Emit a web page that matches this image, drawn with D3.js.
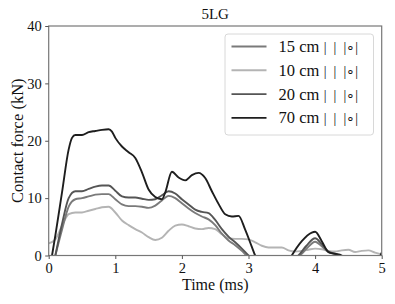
<!DOCTYPE html>
<html>
<head>
<meta charset="utf-8">
<script src="https://cdn.jsdelivr.net/npm/d3@7"></script>
<style>
  body { margin: 0; background: #fff; }
  text { font-family: "Liberation Serif", "Times New Roman", serif; fill: #111; }
</style>
</head>
<body>
<svg width="395" height="304"></svg>
<script>
var times15 = [0.1, 0.2, 0.3, 0.4, 0.5, 0.6, 0.7, 0.8, 0.9, 1.0, 1.1, 1.2, 1.3, 1.4, 1.5, 1.6, 1.7, 1.8, 1.9, 2.0, 2.1, 2.2, 2.3, 2.4, 2.5, 2.6, 2.7, 2.8, 2.9, 2.97, 3.1, 3.4, 3.7, 3.77, 3.88, 4.0, 4.1, 4.2, 4.3, 4.37, 4.5, 5.0];
var force15 = [0, 4.5, 8.5, 9.8, 10, 10.3, 10.6, 10.7, 10.7, 9.8, 8.9, 8.6, 8.6, 8.5, 8.3, 8.7, 9.6, 10.4, 10.0, 9.1, 8.2, 7.4, 6.8, 6.3, 5.3, 3.8, 2.6, 1.8, 0.8, 0, -1, -1.2, -0.4, 0, 1.3, 2.4, 1.6, 0.6, 0.2, 0, -0.8, -1];

var times10 = [0, 0.1, 0.2, 0.3, 0.4, 0.5, 0.6, 0.7, 0.8, 0.9, 1.0, 1.1, 1.2, 1.3, 1.4, 1.5, 1.6, 1.7, 1.8, 1.9, 2.0, 2.1, 2.2, 2.3, 2.4, 2.5, 2.6, 2.7, 2.8, 2.9, 3.0, 3.1, 3.2, 3.3, 3.4, 3.5, 3.6, 3.7, 3.8, 3.9, 4.0, 4.1, 4.2, 4.3, 4.4, 4.5, 4.6, 4.7, 4.8, 4.9, 5.0];
var force10 = [2.1, 2.8, 5.2, 7.2, 7.5, 7.5, 7.8, 8.1, 8.4, 8.5, 7.5, 6.1, 5.3, 4.6, 4.0, 3.2, 2.7, 3.1, 4.3, 5.2, 5.4, 5.1, 4.7, 4.6, 4.8, 4.6, 3.7, 3.0, 2.9, 2.9, 2.8, 2.3, 1.7, 1.4, 1.4, 1.4, 0.9, 0.7, 0.8, 1.0, 1.2, 1.1, 0.8, 0.7, 0.9, 1.0, 0.6, 0.8, 0.9, 0.5, 0.2];

var times20 = [0.1, 0.2, 0.3, 0.4, 0.5, 0.6, 0.7, 0.8, 0.9, 1.0, 1.1, 1.2, 1.3, 1.4, 1.5, 1.6, 1.7, 1.8, 1.9, 2.0, 2.1, 2.2, 2.3, 2.4, 2.5, 2.6, 2.7, 2.8, 2.9, 3.0, 3.1, 3.4, 3.7, 3.75, 3.87, 4.0, 4.1, 4.2, 4.3, 4.37, 4.5, 5.0];
var force20 = [0, 5.5, 10, 11.2, 11.2, 11.6, 12, 12.2, 12.2, 11.3, 10.3, 10.1, 10.1, 9.9, 9.7, 9.8, 10.5, 11.2, 10.8, 9.8, 8.9, 8.0, 7.6, 7.4, 6.2, 4.6, 3.3, 2.3, 1.2, 0, -1, -1.2, -0.5, 0, 1.7, 3.0, 2.0, 0.7, 0.3, 0, -0.8, -1];

var times70 = [0.05, 0.1, 0.2, 0.3, 0.35, 0.4, 0.5, 0.6, 0.7, 0.8, 0.9, 0.95, 1.0, 1.1, 1.2, 1.3, 1.4, 1.5, 1.6, 1.7, 1.75, 1.85, 1.95, 2.05, 2.15, 2.25, 2.35, 2.45, 2.55, 2.65, 2.75, 2.85, 2.95, 3.05, 3.1, 3.2, 3.6, 3.65, 3.8, 3.95, 4.0, 4.1, 4.2, 4.3, 4.4, 4.5, 4.95, 5.0];
var force70 = [0, 3.5, 11, 18.5, 20.5, 21, 21, 21.5, 21.7, 21.9, 22, 21.6, 20.5, 19, 18, 17, 14.5, 11.5, 10.2, 9.8, 11, 14.6, 13.6, 13.1, 14, 14.4, 13.5, 11.2, 9, 7.2, 6.8, 6.9, 4.5, 1.5, 0, -1.5, -1, 0, 2.5, 4.0, 4.15, 2.5, 0.6, 0.3, 0, -1, -0.5, 0.5];

var labels = ['15 cm', '10 cm', '20 cm', '70 cm'];
var labelTail = '|\u2002|\u2002|\u2218|';
var colors = ['#7a7a7a', '#b4b4b4', '#555555', '#1e1e1e'];
var xTicks = [0, 1, 2, 3, 4, 5];
var yTicks = [0, 10, 20, 30, 40];

var svg = d3.select('svg');
var width = +svg.attr('width');
var height = +svg.attr('height');
var margin = { left: 48.7, right: 13.3, top: 26, bottom: 48.5 };

var x = d3.scaleLinear().domain([0, 5]).range([margin.left, width - margin.right]);
var y = d3.scaleLinear().domain([0, 40]).range([height - margin.bottom, margin.top]);

svg.append('clipPath').attr('id', 'plotclip')
  .append('rect')
  .attr('x', x(0)).attr('y', y(40))
  .attr('width', x(5) - x(0)).attr('height', y(0) - y(40));

var series = [
  { t: times15, v: force15 },
  { t: times10, v: force10 },
  { t: times20, v: force20 },
  { t: times70, v: force70 }
];

var line = d3.line()
  .x(function(d) { return x(d[0]); })
  .y(function(d) { return y(d[1]); })
  .curve(d3.curveMonotoneX);

// lighter lines first so the dark ones sit on top
var drawOrder = [1, 0, 2, 3];
var lines = svg.append('g').attr('clip-path', 'url(#plotclip)');
drawOrder.forEach(function(i) {
  var pts = series[i].t.map(function(t, j) { return [t, series[i].v[j]]; });
  lines.append('path')
    .attr('d', line(pts))
    .attr('fill', 'none')
    .attr('stroke', colors[i])
    .attr('stroke-width', 1.9)
    .attr('stroke-linejoin', 'round');
});

// frame
svg.append('rect')
  .attr('x', x(0)).attr('y', y(40))
  .attr('width', x(5) - x(0)).attr('height', y(0) - y(40))
  .attr('fill', 'none')
  .attr('stroke', '#777')
  .attr('stroke-width', 1.2);

var xAxis = svg.append('g')
  .attr('transform', 'translate(0,' + y(0) + ')')
  .call(d3.axisBottom(x).tickValues(xTicks).tickFormat(d3.format('d')).tickSize(3.5).tickPadding(3.5));
var yAxis = svg.append('g')
  .attr('transform', 'translate(' + x(0) + ',0)')
  .call(d3.axisLeft(y).tickValues(yTicks).tickSize(3.5).tickPadding(3.5));

[xAxis, yAxis].forEach(function(a) {
  a.select('.domain').remove();
  a.selectAll('line').attr('stroke', '#555').attr('stroke-width', 1);
  a.selectAll('text').attr('font-size', 14.5).attr('fill', '#111')
    .style('font-family', '"Liberation Serif", serif');
});

svg.append('text')
  .attr('x', (x(0) + x(5)) / 2).attr('y', 19)
  .attr('text-anchor', 'middle')
  .attr('font-size', 15)
  .text('5LG');

svg.append('text')
  .attr('x', (x(0) + x(5)) / 2).attr('y', 289.5)
  .attr('text-anchor', 'middle')
  .attr('font-size', 16)
  .text('Time (ms)');

svg.append('text')
  .attr('transform', 'translate(23,' + (y(0) + y(40)) / 2 + ') rotate(-90)')
  .attr('text-anchor', 'middle')
  .attr('font-size', 16.5)
  .text('Contact force (kN)');

// legend
var legend = svg.append('g');
legend.append('rect')
  .attr('x', 225).attr('y', 34)
  .attr('width', 148.5).attr('height', 101)
  .attr('rx', 3)
  .attr('fill', '#fff')
  .attr('fill-opacity', 0.85)
  .attr('stroke', '#d8d8d8')
  .attr('stroke-width', 1);

labels.forEach(function(lab, i) {
  var ly = 46.5 + i * 23.8;
  legend.append('line')
    .attr('x1', 231.5).attr('x2', 266.5)
    .attr('y1', ly).attr('y2', ly)
    .attr('stroke', colors[i])
    .attr('stroke-width', 1.9);
  var t = legend.append('text')
    .attr('x', 278.5).attr('y', ly + 5.5)
    .attr('font-size', 16.5);
  t.append('tspan').text(lab);
  t.append('tspan').attr('dx', 4.5).attr('font-size', 14).text(labelTail);
});
</script>
</body>
</html>
